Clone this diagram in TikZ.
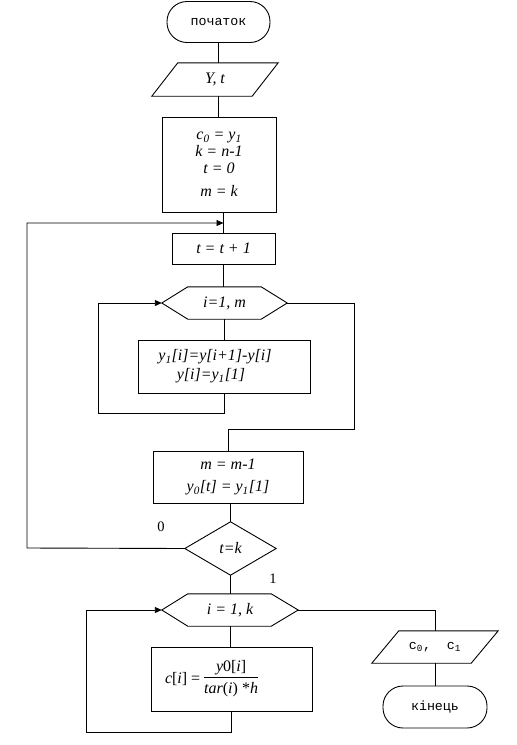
\documentclass[tikz,border=0pt]{standalone}
\usepackage{fontspec}
\setmainfont{Liberation Serif}
\newfontfamily\monof{Liberation Mono}
\usetikzlibrary{arrows.meta}
\begin{document}
\begin{tikzpicture}[x=1pt,y=-1pt,
  every node/.style={font=\fontsize{16}{17}\selectfont\itshape, inner sep=0pt},
  line/.style={line width=0.9pt},
  box/.style={draw, line width=0.9pt, align=center},
  plain/.style={align=center},
  term/.style={draw, line width=0.9pt, rounded corners=20pt, font=\monof\fontsize{13.3}{15}\selectfont},
  lbl/.style={font=\fontsize{14.5}{15}\selectfont\upshape},
  arr/.style={line width=0.9pt, -{Triangle[length=7pt,width=6pt]}}]
\useasboundingbox (0,0) rectangle (517,745);

% nodes
\node[term, minimum width=103pt, minimum height=41pt] (start) at (218.5,22) {початок};
\node[plain, minimum width=126pt, minimum height=33pt] (in) at (215,79.5) {Y, t};
\node[box, minimum width=114pt, minimum height=95pt] (b1) at (219,164.5)
  {c\textsubscript{0} = y\textsubscript{1}\\ k = n-1\\ t = 0\\[6pt] m = k};
\node[box, minimum width=103pt, minimum height=31pt] (b2) at (223.5,248.5) {t = t + 1};
\node[plain, minimum width=125pt, minimum height=32pt] (h1) at (224.5,303) {i=1, m};
\node[box, minimum width=172pt, minimum height=53pt] (b3) at (224,366.5)
  {y\textsubscript{1}[i]=y[i+1]-y[i]\hspace*{18pt}\\[2pt] y[i]=y\textsubscript{1}[1]\hspace*{26pt}};
\node[box, minimum width=150pt, minimum height=52pt] (b4) at (228,477)
  {m = m-1\\[5pt] y\textsubscript{0}[t] = y\textsubscript{1}[1]};
\node[plain, minimum width=91pt, minimum height=53pt] (d) at (230.5,548.5) {t=k};
\node[plain, minimum width=136pt, minimum height=32pt] (h2) at (230,610) {i = 1, k};
\node[box, minimum width=161pt, minimum height=64pt] (b5) at (231.5,679)
  {c\upshape[\itshape i\upshape] = \begin{tabular}{@{}c@{}}\itshape y\upshape 0[\itshape i\upshape]\\[1pt]\hline\rule{0pt}{16pt}\itshape tar\upshape(\itshape i\upshape) *\itshape h\end{tabular}\hspace*{40pt}};
\node[plain, minimum width=126pt, minimum height=32pt, font=\monof\fontsize{13.3}{15}\selectfont] (out) at (435,647)
  {c\textsubscript{0},\ \ c\textsubscript{1}};
\node[term, minimum width=104pt, minimum height=42pt] (end) at (435,707) {кінець};
\node[lbl] (l0) at (161,527) {0};
\node[lbl] (l1) at (273,579) {1};

% shapes drawn through anchors
\draw[line] (in.south west) -- ([xshift=-26pt]in.south east) -- (in.north east) -- ([xshift=26pt]in.north west) -- cycle;
\draw[line] (out.south west) -- ([xshift=-27pt]out.south east) -- (out.north east) -- ([xshift=27pt]out.north west) -- cycle;
\draw[line] (h1.west) -- ([xshift=26pt]h1.north west) -- ([xshift=-26pt]h1.north east) -- (h1.east) -- ([xshift=-26pt]h1.south east) -- ([xshift=26pt]h1.south west) -- cycle;
\draw[line] (h2.west) -- ([xshift=26pt]h2.north west) -- ([xshift=-27pt]h2.north east) -- (h2.east) -- ([xshift=-27pt]h2.south east) -- ([xshift=26pt]h2.south west) -- cycle;
\draw[line] (d.north) -- (d.east) -- (d.south) -- (d.west) -- cycle;

% helper coordinates
\coordinate (j1) at (223.5,223);
\coordinate (cL) at (27,548);
\coordinate (c1) at (98,413);
\coordinate (c2) at (354,429);
\coordinate (c3) at (86,732);

% connectors
\draw[line] (start.south) -- (start.south |- in.north);
\draw[line] (in.south -| start.south) -- (b1.north -| start.south);
\draw[line] (b1.south -| b2.north) -- (b2.north);
\draw[arr] (d.west) -- (cL) |- (j1);
\draw[line] (b2.south) -- (b2.south |- h1.north);
\draw[line] (h1.south -| b3.north) -- (b3.north);
\draw[arr] (b3.south) |- (c1) |- (h1.west);
\draw[line] (h1.east) -| (c2) -| (b4.north);
\draw[line] (b4.south -| d.north) -- (d.north);
\draw[line] (d.south) -- (d.south |- h2.north);
\draw[line] (h2.south) -- (h2.south |- b5.north);
\draw[arr] (b5.south) |- (c3) |- (h2.west);
\draw[line] (h2.east) -| (out.north);
\draw[line] (out.south) -- (end.north);
\end{tikzpicture}
\end{document}
